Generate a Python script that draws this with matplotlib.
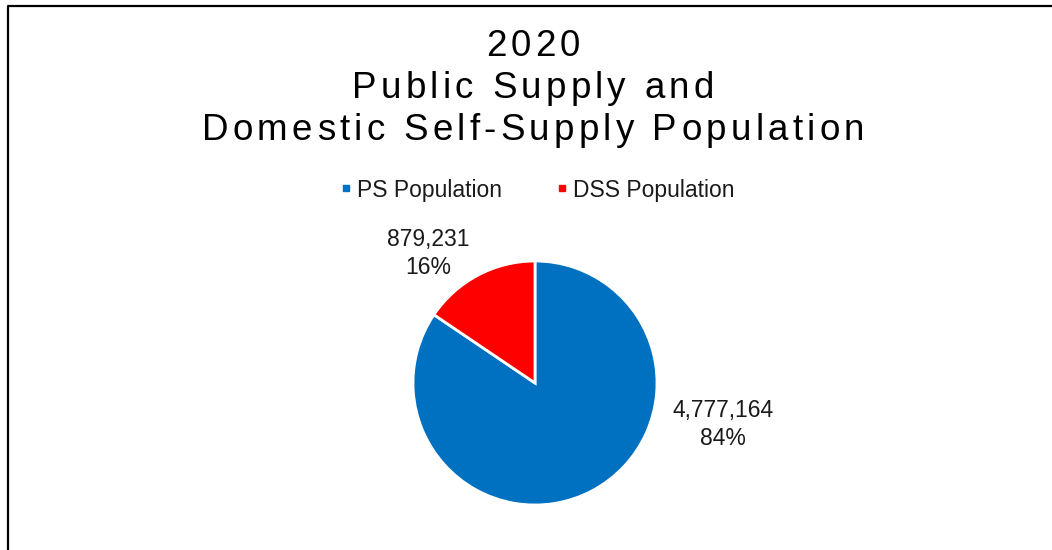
import matplotlib
matplotlib.use("Agg")
import matplotlib.pyplot as plt
from matplotlib.font_manager import FontProperties, findfont, get_font
from matplotlib.lines import Line2D

# population served, 2020
categories = ["PS Population", "DSS Population"]
population = [4777164, 879231]
colors = ["#0070C0", "#FF0000"]

title_lines = ["2020", "Public Supply and", "Domestic Self-Supply Population"]

W, H, DPI = 1052, 550, 100
fig = plt.figure(figsize=(W / DPI, H / DPI), dpi=DPI)
fig.patch.set_facecolor("white")
plt.rcParams["font.family"] = ["Liberation Sans", "DejaVu Sans"]

text_color = "#1a1a1a"
title_size = 26.5


def px(x, y):
    """pixel (from top-left) -> figure fraction"""
    return x / W, 1 - y / H


def advances(line, size):
    prop = FontProperties(family="Liberation Sans", size=size)
    font = get_font(findfont(prop))
    font.set_size(size, DPI)
    return prop, [font.load_char(ord(c)).linearHoriAdvance / 65536 for c in line]


def spaced_text(line, cx, cy, size, spacing):
    """centered line of text with extra tracking between characters"""
    prop, adv = advances(line, size)
    total = sum(adv) + spacing * (len(line) - 1)
    x = cx - total / 2
    for c, a in zip(line, adv):
        fx, fy = px(x + a / 2, cy)
        fig.text(fx, fy, c, fontproperties=prop, ha="center", va="center",
                 color="black")
        x += a + spacing


# tracking so the longest title line spans ~663 px
_, adv = advances(title_lines[-1], title_size)
tracking = (663 - sum(adv)) / (len(title_lines[-1]) - 1)
for line, y in zip(title_lines, [47, 89, 131]):
    spaced_text(line, 533, y, title_size, tracking)

# chart border (left and top edges)
fig.add_artist(Line2D([8 / W, 8 / W, 1.0], [0.0, 1 - 6 / H, 1 - 6 / H],
                      transform=fig.transFigure, color="black", lw=1.6))

# pie
cx, cy, r = 535, 383, 122
x0, y0 = px(cx - r, cy + r)
ax = fig.add_axes([x0, y0, 2 * r / W, 2 * r / H])
wedges, _ = ax.pie(population, colors=colors, startangle=90, counterclock=False,
                   radius=1.0, wedgeprops=dict(edgecolor="white", linewidth=2))
ax.set_xlim(-1, 1)
ax.set_ylim(-1, 1)
ax.set_aspect("equal")
ax.axis("off")

total = sum(population)
label_pos = [(1.54, -0.34), (-0.875, 1.06)]
for val, (lx, ly) in zip(population, label_pos):
    ax.text(lx, ly, f"{val:,}\n{val / total:.0%}", ha="center", va="center",
            fontsize=16.5, color=text_color, linespacing=1.3, clip_on=False)

handles = [Line2D([], [], ls="none", marker="s", markersize=5, color=c) for c in colors]
lx, ly = px(538, 190)
fig.legend(handles, categories, loc="center", bbox_to_anchor=(lx, ly), ncol=2,
           frameon=False, fontsize=16.5, handlelength=0.4, handletextpad=0.3,
           columnspacing=2.4, labelcolor=text_color)

fig.savefig("out.png", dpi=DPI, facecolor="white")
